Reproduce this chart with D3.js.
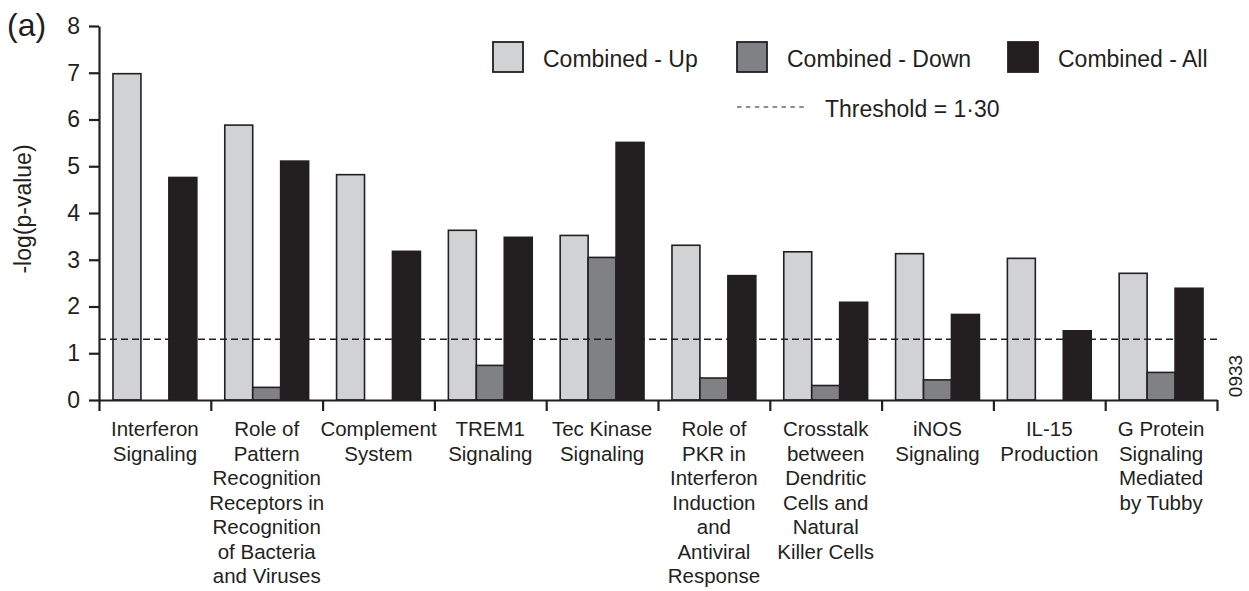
<!DOCTYPE html>
<html>
<head>
<meta charset="utf-8">
<script src="https://cdn.jsdelivr.net/npm/d3@7"></script>
<style>
  body { margin: 0; background: #fff; }
  svg text { font-family: "Liberation Sans", Arial, sans-serif; fill: #231f20; }
</style>
</head>
<body>
<div id="chart"></div>
<script>
// pathway names, one entry per line of the wrapped label
const categories = [
  ["Interferon", "Signaling"],
  ["Role of", "Pattern", "Recognition", "Receptors in", "Recognition", "of Bacteria", "and Viruses"],
  ["Complement", "System"],
  ["TREM1", "Signaling"],
  ["Tec Kinase", "Signaling"],
  ["Role of", "PKR in", "Interferon", "Induction", "and", "Antiviral", "Response"],
  ["Crosstalk", "between", "Dendritic", "Cells and", "Natural", "Killer Cells"],
  ["iNOS", "Signaling"],
  ["IL-15", "Production"],
  ["G Protein", "Signaling", "Mediated", "by Tubby"]
];
const seriesNames = ["Combined - Up", "Combined - Down", "Combined - All"];
const upValues   = [6.98, 5.88, 4.82, 3.63, 3.52, 3.31, 3.17, 3.13, 3.03, 2.71];
const downValues = [0, 0.27, 0, 0.74, 3.05, 0.47, 0.31, 0.43, 0, 0.59];
const allValues  = [4.76, 5.11, 3.18, 3.48, 5.51, 2.66, 2.09, 1.83, 1.48, 2.39];
const yTicks = [0, 1, 2, 3, 4, 5, 6, 7, 8];
const threshold = 1.30;
const thresholdLabel = "Threshold = 1\u00b730";

const colors = ["#d1d2d4", "#808184", "#231f20"];
const ink = "#231f20";

// set the dimensions and margins of the graph
const m = {top: 26, right: 32, bottom: 191, left: 99},
    w = 1249 - m.left - m.right,
    h = 591 - m.top - m.bottom;

const svgRoot = d3.select("#chart")
  .append("svg")
    .attr("width", 1249)
    .attr("height", 591);

const svg = svgRoot.append("g")
    .attr("transform", `translate(${m.left},${m.top})`);

const keys = categories.map(c => c.join(" "));

// X scales
const x0 = d3.scaleBand()
    .domain(keys)
    .range([0, w])
    .padding(0);

const x1 = d3.scaleBand()
    .domain(seriesNames)
    .range([0, x0.bandwidth()])
    .paddingInner(0)
    .paddingOuter(0.5);

// boundary ticks between the groups
const xb = d3.scaleLinear()
    .domain([0, keys.length])
    .range([0, w]);

// Y scale
const y = d3.scaleLinear()
    .domain([0, 8])
    .range([h, 0]);

// bars
const rows = keys.map((k, i) => ({
  key: k,
  vals: [upValues[i], downValues[i], allValues[i]]
}));

const groups = svg.selectAll("g.grp")
  .data(rows)
  .enter()
  .append("g")
    .attr("class", "grp")
    .attr("transform", d => `translate(${x0(d.key)},0)`);

groups.selectAll("rect")
  .data(d => d.vals.map((v, j) => ({series: seriesNames[j], v: v, j: j})).filter(e => e.v > 0))
  .enter()
  .append("rect")
    .attr("x", d => x1(d.series))
    .attr("y", d => y(d.v))
    .attr("width", x1.bandwidth())
    .attr("height", d => h - y(d.v))
    .attr("fill", d => colors[d.j])
    .attr("stroke", ink)
    .attr("stroke-width", 1.6);

// threshold line
svg.append("line")
    .attr("x1", 0)
    .attr("x2", w)
    .attr("y1", y(threshold))
    .attr("y2", y(threshold))
    .attr("stroke", ink)
    .attr("stroke-width", 1.3)
    .attr("stroke-dasharray", "7,4");

// X axis (ticks only at group boundaries)
const Xaxis = svg.append("g")
    .attr("transform", `translate(0,${h})`)
    .call(d3.axisBottom(xb).tickValues(d3.range(keys.length + 1)).tickFormat("").tickSize(11).tickSizeOuter(0));

// Y axis
const Yaxis = svg.append("g")
    .call(d3.axisLeft(y).tickValues(yTicks).tickFormat(d3.format("d")).tickSize(10).tickPadding(9).tickSizeOuter(0));

[Xaxis, Yaxis].forEach(a => {
  a.select(".domain").attr("stroke", ink).attr("stroke-width", 2.2);
  a.selectAll(".tick line").attr("stroke", ink).attr("stroke-width", 2.2);
});
Yaxis.selectAll(".tick text")
    .style("font-size", "23px")
    .attr("fill", ink);

// category labels
const lh = 24.5;
svg.selectAll("text.cat")
  .data(categories)
  .enter()
  .append("text")
    .attr("class", "cat")
    .attr("text-anchor", "middle")
    .attr("x", (d, i) => x0(keys[i]) + x0.bandwidth() / 2)
    .attr("y", h + 36)
    .style("font-size", "20.5px")
  .selectAll("tspan")
  .data(d => d)
  .enter()
  .append("tspan")
    .attr("x", function() { return d3.select(this.parentNode).attr("x"); })
    .attr("dy", (d, i) => i === 0 ? 0 : lh)
    .text(d => d);

// y label
svgRoot.append("text")
    .attr("transform", "translate(31,209) rotate(-90)")
    .attr("text-anchor", "middle")
    .style("font-size", "23px")
    .text("-log(p-value)");

// panel letter
svgRoot.append("text")
    .attr("x", 7)
    .attr("y", 36)
    .style("font-size", "32px")
    .text("(a)");

// figure code on the right
svgRoot.append("text")
    .attr("transform", "translate(1242,376) rotate(-90)")
    .attr("text-anchor", "middle")
    .style("font-size", "19px")
    .text("0933");

// legend
const legendX = [493, 737, 1008];
const legend = svgRoot.selectAll("g.leg")
  .data(seriesNames)
  .enter()
  .append("g")
    .attr("class", "leg")
    .attr("transform", (d, i) => `translate(${legendX[i]},42)`);

legend.append("rect")
    .attr("width", 30)
    .attr("height", 30)
    .attr("fill", (d, i) => colors[i])
    .attr("stroke", ink)
    .attr("stroke-width", 1.8);

legend.append("text")
    .attr("x", 50)
    .attr("y", 25)
    .style("font-size", "23px")
    .text(d => d);

const thr = svgRoot.append("g")
    .attr("transform", "translate(737,107)");
thr.append("line")
    .attr("x1", 0)
    .attr("x2", 70)
    .attr("stroke", ink)
    .attr("stroke-width", 1.2)
    .attr("stroke-dasharray", "4.5,4.4");
thr.append("text")
    .attr("x", 88)
    .attr("y", 10)
    .style("font-size", "23px")
    .text(thresholdLabel);
</script>
</body>
</html>
